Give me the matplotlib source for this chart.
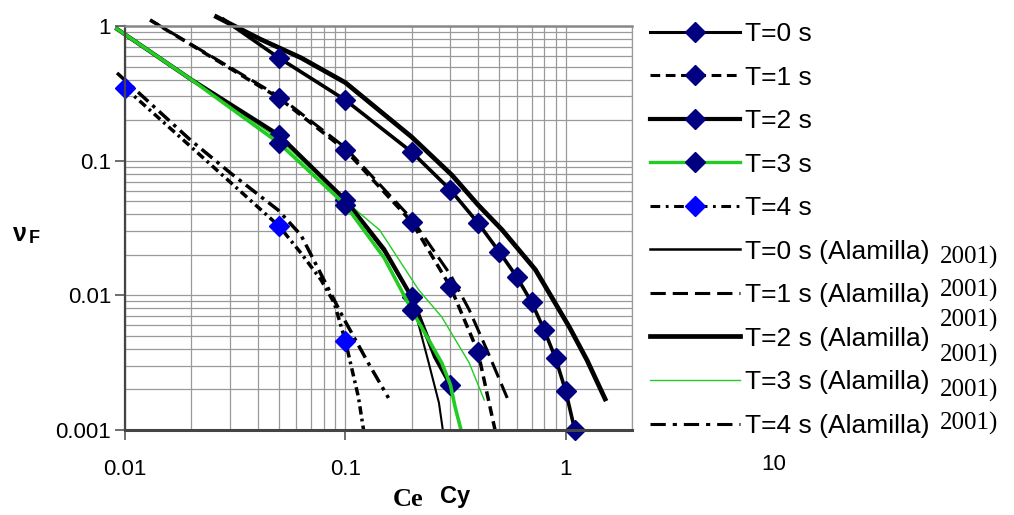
import matplotlib
matplotlib.use("Agg")
import matplotlib.pyplot as plt
from matplotlib.lines import Line2D

plt.rcParams['font.family'] = ['Liberation Sans', 'DejaVu Sans']
plt.rcParams['lines.scale_dashes'] = False

# curves with markers
t0_x = [0.028, 0.05, 0.1, 0.2, 0.3, 0.4, 0.5, 0.6, 0.7, 0.8, 0.9, 1.0, 1.1]
t0_y = [1.12, 0.579, 0.282, 0.116, 0.0606, 0.0345, 0.021, 0.0137, 0.0089, 0.0055, 0.0034, 0.00195, 0.001]
t0_mk = list(range(1, 13))

t1_x = [0.013, 0.05, 0.1, 0.2, 0.3, 0.4, 0.478]
t1_y = [1.108, 0.292, 0.120, 0.0351, 0.01154, 0.0038, 0.001]
t1_mk = [1, 2, 3, 4, 5]

t2_x = [0.0092, 0.02, 0.05, 0.1, 0.15, 0.2, 0.255, 0.3]
t2_y = [0.95, 0.40, 0.155, 0.0511, 0.022, 0.0097, 0.0035, 0.00216]
t2_mk = [2, 3, 5, 7]

t3_x = [0.0092, 0.02, 0.05, 0.1, 0.15, 0.2, 0.274, 0.3, 0.315, 0.335]
t3_y = [0.95, 0.40, 0.135, 0.047, 0.019, 0.0078, 0.00315, 0.00216, 0.00148, 0.001]
t3_mk = [2, 3, 5]

t4_x = [0.01, 0.02, 0.05, 0.0629, 0.0776, 0.089, 0.1, 0.1146, 0.121]
t4_y = [0.347, 0.126, 0.0327, 0.0206, 0.013, 0.0088, 0.0046, 0.00176, 0.001]
t4_mk = [0, 2, 6]

# Alamilla 2001 curves
a0_x = [0.0092, 0.02, 0.05, 0.1, 0.15, 0.2, 0.239, 0.266, 0.277]
a0_y = [0.95, 0.40, 0.15, 0.05, 0.021, 0.0095, 0.00315, 0.00159, 0.001]

a1_x = [0.013, 0.05, 0.1, 0.2, 0.3, 0.365, 0.44, 0.543]
a1_y = [1.108, 0.30, 0.125, 0.037, 0.0142, 0.0078, 0.0039, 0.00173]

a2_x = [0.026, 0.041, 0.063, 0.1, 0.2, 0.305, 0.4, 0.515, 0.729, 1.04, 1.25, 1.51]
a2_y = [1.17, 0.80, 0.58, 0.38, 0.15, 0.078, 0.047, 0.0306, 0.0155, 0.0058, 0.0033, 0.0017]

a3_x = [0.0092, 0.02, 0.05, 0.1, 0.143, 0.215, 0.274, 0.365, 0.427]
a3_y = [0.95, 0.40, 0.145, 0.05, 0.0306, 0.011, 0.0069, 0.00315, 0.00167]

a4_x = [0.0092, 0.0198, 0.0301, 0.0495, 0.0629, 0.0989, 0.127, 0.157]
a4_y = [0.448, 0.1425, 0.081, 0.043, 0.028, 0.0066, 0.00315, 0.00173]

navy = '#000080'
green = '#22CC22'

fig = plt.figure(figsize=(10.14, 5.15), dpi=100)
ax = fig.add_axes([125/1014, 1-430/515, 507/1014, 404/515])
ax.set_xscale('log')
ax.set_yscale('log')
ax.set_xlim(0.01, 2)
ax.set_ylim(0.001, 1)

ax.grid(True, which='both', color='#9a9a9a', lw=0.9)
ax.set_axisbelow(True)

kw = dict(clip_on=False)
# Alamilla curves
ax.plot(a2_x, a2_y, color='black', lw=3.4, **kw)
ax.plot(a0_x, a0_y, color='black', lw=1.5, **kw)
ax.plot(a1_x, a1_y, color='black', lw=2.2, dashes=(12, 5), **kw)
ax.plot(a3_x, a3_y, color=green, lw=1.0, **kw)
ax.plot(a4_x, a4_y, color='black', lw=2.5, dashes=(10, 4, 2.5, 4), **kw)

# marked curves
mk = dict(marker='D', ms=10, mfc=navy, mec=navy)
ax.plot(t0_x, t0_y, color='black', lw=2.6, markevery=t0_mk, **mk, **kw)
ax.plot(t1_x, t1_y, color='black', lw=2.5, dashes=(7, 4), markevery=t1_mk, **mk, **kw)
ax.plot(t2_x, t2_y, color='black', lw=3.0, markevery=t2_mk, **mk, **kw)
ax.plot(t3_x, t3_y, color=green, lw=2.6, markevery=t3_mk, **mk, **kw)
ax.plot(t4_x, t4_y, color='black', lw=2.5, dashes=(6, 3, 2, 3), marker='D', ms=10,
        mfc='#0000FF', mec='#0000FF', markevery=t4_mk, **kw)

ax.set_xticks([0.01, 0.1, 1])
ax.set_xticklabels(['0.01', '0.1', '1'])
ax.set_yticks([0.001, 0.01, 0.1, 1])
ax.set_yticklabels(['0.001', '0.01', '0.1', '1'])
ax.tick_params(which='major', labelsize=16, length=7, width=1.2, color='#555555', pad=3)
ax.tick_params(axis='x', pad=14)
ax.tick_params(which='minor', length=0)

ax.spines['left'].set_color('#444444')
ax.spines['left'].set_linewidth(1.6)
ax.spines['bottom'].set_color('#444444')
ax.spines['bottom'].set_linewidth(2.2)
ax.spines['top'].set_color('#888888')
ax.spines['top'].set_linewidth(1.8)
ax.spines['right'].set_color('#9a9a9a')
ax.spines['right'].set_linewidth(0.9)

fig.text(774/1014, 1-465/515, '10', fontsize=16, ha='center', va='center')

# axis labels
fig.text(20/1014, 1-234/515, 'ν', fontsize=18, fontweight='bold', ha='center', va='center')
fig.text(34/1014, 1-238/515, 'F', fontsize=13, fontweight='bold', ha='center', va='center')
fig.text(408/1014, 1-500/515, 'Ce', fontsize=19, fontweight='bold', family='Liberation Serif', ha='center', va='center')
fig.text(455/1014, 1-496/515, 'Cy', fontsize=17, fontweight='bold', ha='center', va='center')

# legend
handles = [
    Line2D([], [], color='black', lw=2.2, marker='D', ms=10, mfc=navy, mec=navy),
    Line2D([], [], color='black', lw=2.2, dashes=(7, 4), marker='D', ms=10, mfc=navy, mec=navy),
    Line2D([], [], color='black', lw=3.0, marker='D', ms=10, mfc=navy, mec=navy),
    Line2D([], [], color=green, lw=2.4, marker='D', ms=10, mfc=navy, mec=navy),
    Line2D([], [], color='black', lw=2.2, dashes=(7, 4, 2, 4), marker='D', ms=10, mfc='#0000FF', mec='#0000FF'),
    Line2D([], [], color='black', lw=1.8),
    Line2D([], [], color='black', lw=2.2, dashes=(11, 5)),
    Line2D([], [], color='black', lw=3.4),
    Line2D([], [], color=green, lw=1.0),
    Line2D([], [], color='black', lw=2.2, dashes=(11, 5, 3, 5)),
]
labels = ['T=0 s', 'T=1 s', 'T=2 s', 'T=3 s', 'T=4 s',
          'T=0 s (Alamilla)', 'T=1 s (Alamilla)', 'T=2 s (Alamilla)',
          'T=3 s (Alamilla)', 'T=4 s (Alamilla)']
fig.legend(handles, labels, loc='upper left', bbox_to_anchor=(650/1014, 1-22/515),
           frameon=False, fontsize=19, handlelength=3.4, handletextpad=0.2,
           labelspacing=0.74, borderpad=0, borderaxespad=0)

for yy in [257, 290, 320, 355, 390, 423]:
    fig.text(940/1014, 1-yy/515, '2001)', fontsize=18, family='Liberation Serif', ha='left', va='center')

fig.savefig('out.png', dpi=100)
